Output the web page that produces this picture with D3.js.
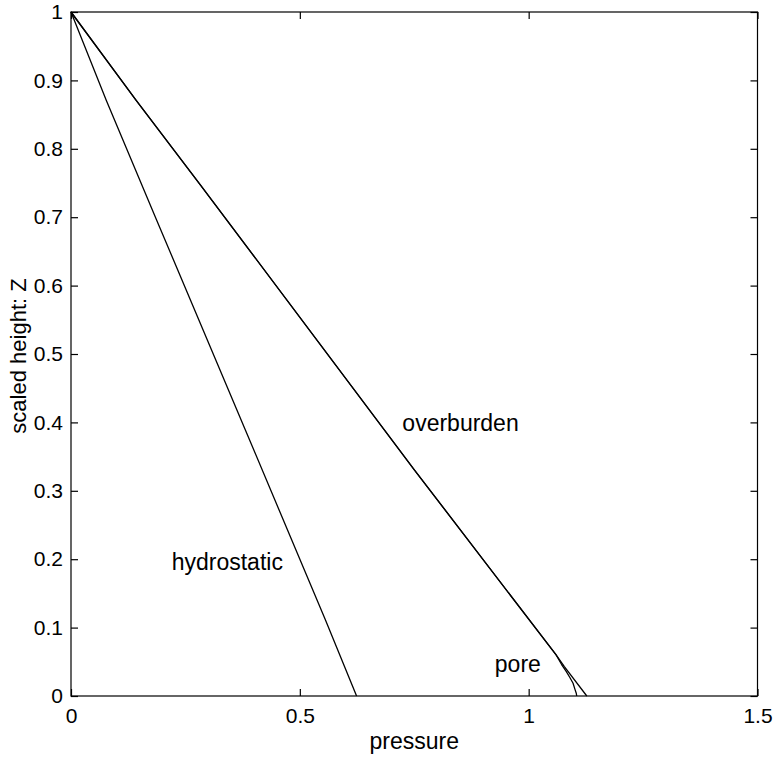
<!DOCTYPE html>
<html>
<head>
<meta charset="utf-8">
<script src="https://cdn.jsdelivr.net/npm/d3@7"></script>
<style>
  body { margin: 0; background: #fff; }
  svg { display: block; font-family: "Liberation Sans", Arial, sans-serif; }
</style>
</head>
<body>
<svg id="chart" width="777" height="760"></svg>
<script>
// values: [pressure, Z]
const overburden = [[0, 1], [0.142, 0.871], [0.283, 0.747], [0.751, 0.33], [1.06, 0.06], [1.078, 0.043], [1.127, 0]];
const hydrostatic = [[0, 1], [0.077, 0.871], [0.187, 0.696], [0.381, 0.389], [0.556, 0.111], [0.624, 0]];
const pore = [[0, 1], [0.142, 0.871], [0.283, 0.747], [0.751, 0.33], [1.06, 0.06], [1.072, 0.046], [1.082, 0.036], [1.09, 0.027], [1.097, 0.0186], [1.101, 0.01], [1.104, 0.004], [1.105, 0]];

const xTicks = [0, 0.5, 1, 1.5];
const yTicks = [0, 0.1, 0.2, 0.3, 0.4, 0.5, 0.6, 0.7, 0.8, 0.9, 1];

const labels = [
    { text: "overburden", x: 0.724, y: 0.387 },
    { text: "hydrostatic", x: 0.22, y: 0.184 },
    { text: "pore", x: 0.926, y: 0.035 }
];

const svg = d3.select("#chart");
const margin = { top: 12, right: 19.5, bottom: 64, left: 71 };
const width = 777, height = 760;

const x = d3.scaleLinear().domain([0, 1.5]).range([margin.left, width - margin.right]);
const y = d3.scaleLinear().domain([0, 1]).range([height - margin.bottom, margin.top]);

const tickLen = 7;
const fontSize = 21;
const labelSize = 23;

// box
svg.append("rect")
    .attr("x", x(0))
    .attr("y", y(1))
    .attr("width", x(1.5) - x(0))
    .attr("height", y(0) - y(1))
    .attr("fill", "none")
    .attr("stroke", "#000")
    .attr("stroke-width", 1.2);

// axes, ticks pointing inward
svg.append("g")
    .attr("transform", `translate(0,${y(0)})`)
    .call(d3.axisBottom(x).tickValues(xTicks).tickSizeInner(-tickLen).tickSizeOuter(0).tickPadding(12).tickFormat(d3.format("")))
    .call(g => g.select(".domain").remove())
    .call(g => g.selectAll("text").attr("font-size", fontSize).attr("font-family", null).attr("fill", "#000"));

svg.append("g")
    .attr("transform", `translate(0,${y(1)})`)
    .call(d3.axisTop(x).tickValues(xTicks).tickSizeInner(-tickLen).tickSizeOuter(0).tickFormat(""))
    .call(g => g.select(".domain").remove());

svg.append("g")
    .attr("transform", `translate(${x(0)},0)`)
    .call(d3.axisLeft(y).tickValues(yTicks).tickSizeInner(-tickLen).tickSizeOuter(0).tickPadding(8).tickFormat(d3.format("")))
    .call(g => g.select(".domain").remove())
    .call(g => g.selectAll("text").attr("font-size", fontSize).attr("font-family", null).attr("fill", "#000"));

svg.append("g")
    .attr("transform", `translate(${x(1.5)},0)`)
    .call(d3.axisRight(y).tickValues(yTicks).tickSizeInner(-tickLen).tickSizeOuter(0).tickFormat(""))
    .call(g => g.select(".domain").remove());

svg.selectAll(".tick line").attr("stroke", "#000").attr("stroke-width", 1.2);

// curves
const line = d3.line().x(d => x(d[0])).y(d => y(d[1]));

[overburden, hydrostatic, pore].forEach(series => {
    svg.append("path")
        .datum(series)
        .attr("d", line)
        .attr("fill", "none")
        .attr("stroke", "#000")
        .attr("stroke-width", 1.3)
        .attr("stroke-linejoin", "round");
});

// in-plot labels
svg.append("g")
    .selectAll("text")
    .data(labels)
    .join("text")
    .attr("x", d => x(d.x))
    .attr("y", d => y(d.y))
    .attr("font-size", labelSize)
    .text(d => d.text);

// axis titles
svg.append("text")
    .attr("x", (x(0) + x(1.5)) / 2)
    .attr("y", 749)
    .attr("text-anchor", "middle")
    .attr("font-size", labelSize)
    .text("pressure");

svg.append("text")
    .attr("transform", "rotate(-90)")
    .attr("x", -356)
    .attr("y", 26)
    .attr("text-anchor", "middle")
    .attr("font-size", 22)
    .text("scaled height: Z");
</script>
</body>
</html>
